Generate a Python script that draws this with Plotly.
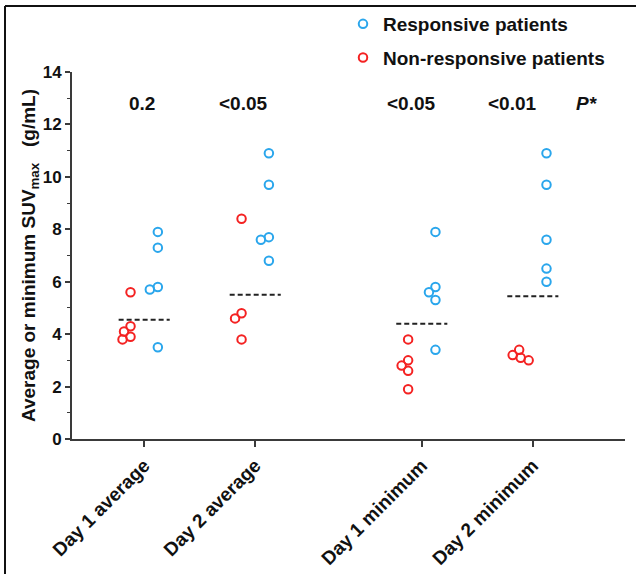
import plotly.graph_objects as go

# ---------------- data ----------------
categories = ["Day 1 average", "Day 2 average", "Day 1 minimum", "Day 2 minimum"]
cat_pos = [1, 2, 3.5, 4.5]

responsive = [
    [7.9, 7.3, 5.8, 5.7, 3.5],
    [10.9, 9.7, 7.7, 7.6, 6.8],
    [7.9, 5.8, 5.6, 5.3, 3.4],
    [10.9, 9.7, 7.6, 6.5, 6.0],
]
non_responsive = [
    [5.6, 4.3, 4.1, 3.9, 3.8],
    [8.4, 4.8, 4.6, 3.8],
    [3.8, 3.0, 2.8, 2.6, 1.9],
    [3.4, 3.2, 3.1, 3.0],
]
cutoff = [4.55, 5.5, 4.4, 5.45]
p_labels = ["0.2", "<0.05", "<0.05", "<0.01"]

# ---------------- layout geometry ----------------
W, H = 636, 574
ML, MR, MT, MB = 72, 11, 72, 135
XR = [0.35, 5.33]
YR = [0, 14]
PW = W - ML - MR
PH = H - MT - MB
px_per_x = PW / (XR[1] - XR[0])
px_per_y = PH / (YR[1] - YR[0])

BLUE = "#2AA6EC"
RED = "#F42222"


def swarm(values, center, diam=8.0, step=0.5):
    """Simple beeswarm: returns x positions for values around center."""
    placed = []  # (dx_px, y_px)
    out = [None] * len(values)
    order = sorted(range(len(values)), key=lambda i: -values[i])
    for i in order:
        y = values[i] * px_per_y
        k = 0
        while True:
            found = None
            for dx in ([0.0] if k == 0 else [-k * step, k * step]):
                if all((dx - px) ** 2 + (y - py) ** 2 >= diam ** 2 for px, py in placed):
                    found = dx
                    break
            if found is not None:
                break
            k += 1
        placed.append((found, y))
        out[i] = center + found / px_per_x
    return out


GROUP_OFF = 0.123

rx, ry, nx, ny = [], [], [], []
for pos, rv, nv in zip(cat_pos, responsive, non_responsive):
    rx += swarm(rv, pos + GROUP_OFF)
    ry += rv
    nx += swarm(nv, pos - GROUP_OFF)
    ny += nv

fig = go.Figure()

# dashed cutoff lines
HALF = 0.23
lx, ly = [], []
for pos, c in zip(cat_pos, cutoff):
    lx += [pos - HALF, pos + HALF, None]
    ly += [c, c, None]
fig.add_trace(go.Scatter(x=lx, y=ly, mode="lines", showlegend=False,
                         line=dict(color="#222222", width=2, dash="5px,3px"),
                         hoverinfo="skip"))

fig.add_trace(go.Scatter(x=rx, y=ry, mode="markers", name="Responsive patients",
                         legendgroup="r",
                         marker=dict(symbol="circle-open", size=8.5,
                                     line=dict(color=BLUE, width=2), color=BLUE)))
fig.add_trace(go.Scatter(x=nx, y=ny, mode="markers", name="Non-responsive patients",
                         legendgroup="n",
                         marker=dict(symbol="circle-open", size=8.5,
                                     line=dict(color=RED, width=2), color=RED)))

# P-value annotations
p_x = [0.98, 1.89, 3.41, 4.32]
for x, t in zip(p_x, p_labels):
    fig.add_annotation(x=x, y=12.8, text=t, showarrow=False,
                       font=dict(size=19, color="#111111", weight="bold"))
fig.add_annotation(x=4.99, y=12.8, text="<i>P*</i>", showarrow=False,
                   font=dict(size=19, color="#111111", weight="bold"))

FONT = "Liberation Sans, Arial, sans-serif"
axis_col = "#3a3a3a"

fig.update_layout(
    width=W, height=H,
    margin=dict(l=ML, r=MR, t=MT, b=MB, autoexpand=False),
    paper_bgcolor="white", plot_bgcolor="white",
    font=dict(family=FONT, color="#111111"),
    showlegend=True,
    legend=dict(x=(343 - ML) / PW, y=1 + (MT - 5) / PH,
                xanchor="left", yanchor="top",
                font=dict(size=19, weight="bold", color="#111111"),
                traceorder="grouped", tracegroupgap=6,
                bgcolor="rgba(0,0,0,0)"),
    xaxis=dict(range=XR, tickvals=cat_pos, ticktext=categories, tickangle=-45,
               automargin=False,
               showgrid=False, zeroline=False, showline=True,
               linecolor=axis_col, linewidth=2,
               ticks="outside", ticklen=6, tickwidth=1.5, tickcolor=axis_col,
               tickfont=dict(size=19, weight="bold", color="#111111")),
    yaxis=dict(range=YR, tickvals=list(range(0, 15, 2)),
               automargin=False,
               showgrid=False, zeroline=False, showline=True,
               linecolor=axis_col, linewidth=2,
               ticks="outside", ticklen=5, tickwidth=1.5, tickcolor=axis_col,
               minor=dict(dtick=1, ticks="outside", ticklen=3, tickwidth=1.2,
                          tickcolor=axis_col, showgrid=False),
               tickfont=dict(size=17, weight="bold", color="#111111"),
               title=dict(text="Average or minimum SUV<sub>max</sub>&nbsp;&nbsp;&nbsp;(g/mL)",
                          font=dict(size=19, weight="bold", color="#111111"),
                          standoff=2)),
)

# figure frame (top and left edges)
x_left = (5 - ML) / PW
x_right = (W - ML) / PW
y_top = 1 + (MT - 6) / PH
y_bot = -(MB) / PH
fig.add_shape(type="line", xref="paper", yref="paper", x0=x_left, x1=x_right,
              y0=y_top, y1=y_top, line=dict(color="#111111", width=2))
fig.add_shape(type="line", xref="paper", yref="paper", x0=x_left, x1=x_left,
              y0=y_top, y1=y_bot, line=dict(color="#111111", width=2))

fig.write_html("out.html", config={"displayModeBar": False},
               post_script="document.body.style.margin='0';")
